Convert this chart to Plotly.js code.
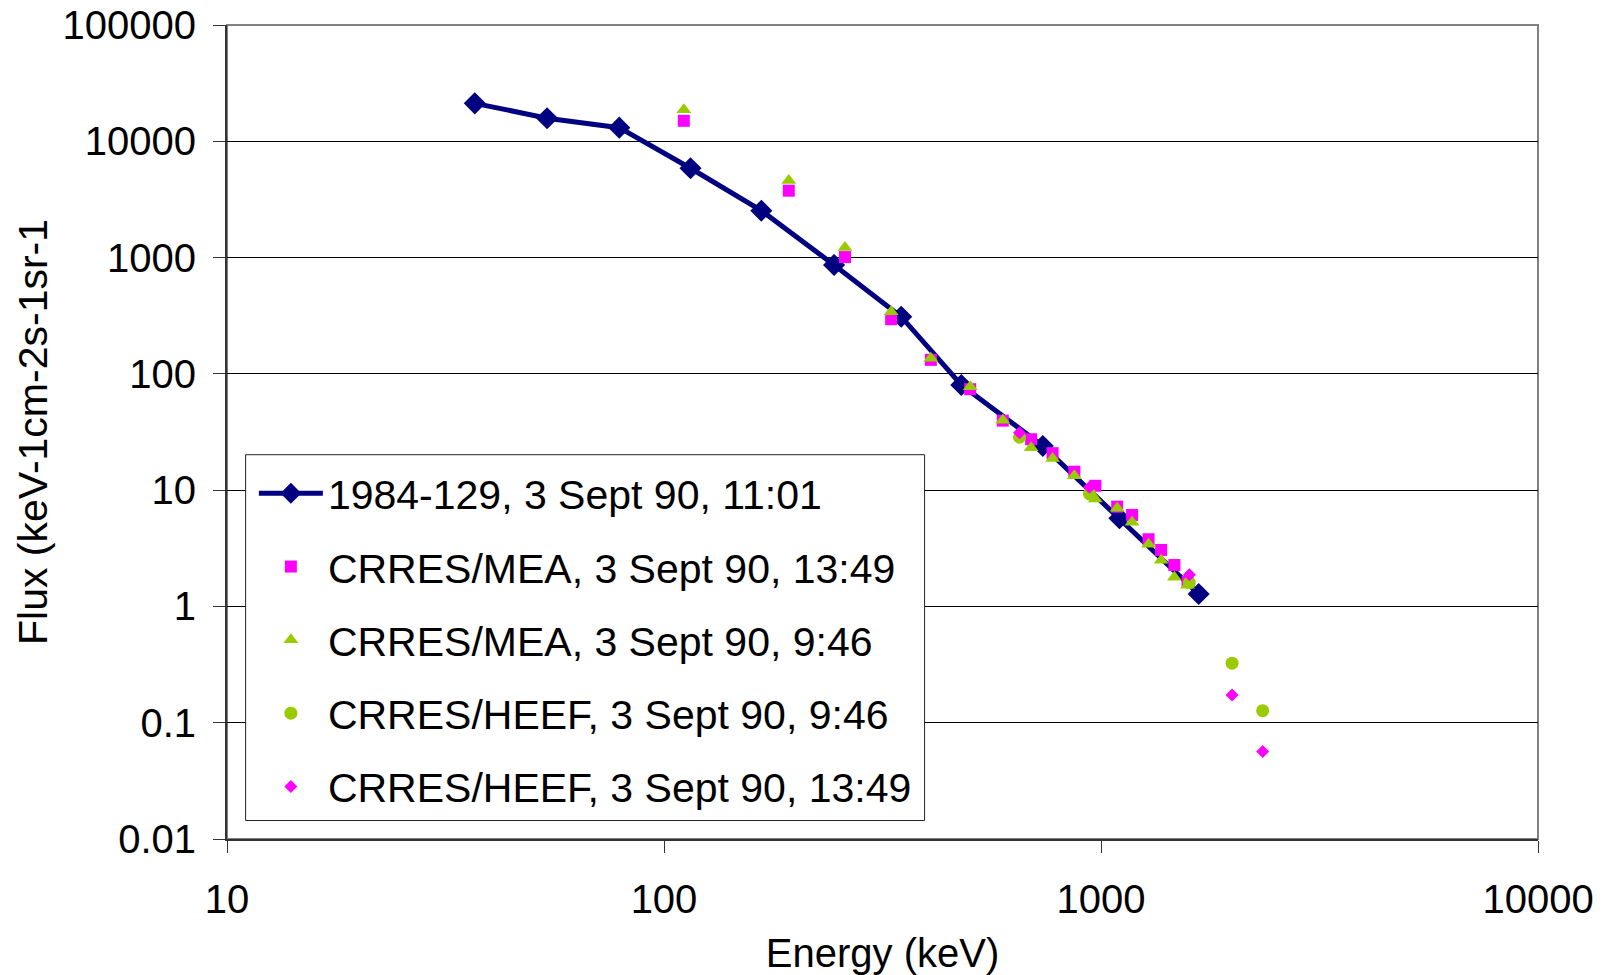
<!DOCTYPE html>
<html>
<head>
<meta charset="utf-8">
<script src="https://cdn.plot.ly/plotly-3.0.1.min.js"></script>
<style>
  html, body { margin: 0; padding: 0; background: #ffffff; }
  #chart { width: 1605px; height: 975px; }
</style>
</head>
<body>
<div id="chart"></div>
<script>
// Electron flux spectra, 3 September 1990
const seriesNames = [
  '1984-129, 3 Sept 90, 11:01',
  'CRRES/MEA, 3 Sept 90, 13:49',
  'CRRES/MEA, 3 Sept 90, 9:46',
  'CRRES/HEEF, 3 Sept 90, 9:46',
  'CRRES/HEEF, 3 Sept 90, 13:49'
];

// 1984-129 (LANL geosynchronous)
const lanlEnergy = [36.9, 54.0, 79.0, 115, 167, 245, 349, 479, 736, 1102, 1673];
const lanlFlux   = [21200, 15800, 13100, 5860, 2530, 864, 310, 80.3, 24.0, 5.73, 1.28];

// CRRES/MEA channels
const meaEnergy   = [111, 193, 259.5, 331, 408, 502, 596, 692, 775, 869, 971, 1089, 1178, 1285, 1373, 1472, 1578];
const mea1349Flux = [15000, 3760, 1010, 295, 132, 73.8, 39.6, 27.4, 20.8, 14.4, 10.9, 7.21, 6.12, 3.78, 3.06, 2.27, 1.63];
const mea0946Flux = [18700, 4590, 1220, 342, 136, 77.5, 40.0, 23.2, 18.7, 13.3, 8.4, 7.0, 5.3, 3.42, 2.5, 1.78, 1.52];

// CRRES/HEEF channels
const heefEnergy   = [651, 941, 1593, 1995, 2344];
const heef0946Flux = [28.5, 9.27, 1.6, 0.325, 0.127];
const heef1349Flux = [31.2, 10.6, 1.87, 0.173, 0.0565];

// Axis ticks
const xTicks = [10, 100, 1000, 10000];
const yTicks = [0.01, 0.1, 1, 10, 100, 1000, 10000, 100000];
const xTickText = ['10', '100', '1000', '10000'];
const yTickText = ['0.01', '0.1', '1', '10', '100', '1000', '10000', '100000'];

const NAVY = '#000080';
const MAGENTA = '#FF00FF';
const LIME = '#99CC00';
const FONT = 'Liberation Sans, Arial, sans-serif';

const traces = [
  {
    x: lanlEnergy, y: lanlFlux, name: seriesNames[0], legendgroup: 'g0',
    type: 'scatter', mode: 'lines+markers',
    line: { color: NAVY, width: 5 },
    marker: { symbol: 'diamond', size: 17, color: NAVY }
  },
  {
    x: meaEnergy, y: mea1349Flux, name: seriesNames[1], legendgroup: 'g1',
    type: 'scatter', mode: 'markers',
    marker: { symbol: 'square', size: 12, color: MAGENTA }
  },
  {
    x: meaEnergy, y: mea0946Flux, name: seriesNames[2], legendgroup: 'g2',
    type: 'scatter', mode: 'markers',
    marker: { symbol: 'triangle-up', size: 13, color: LIME }
  },
  {
    x: heefEnergy, y: heef0946Flux, name: seriesNames[3], legendgroup: 'g3',
    type: 'scatter', mode: 'markers',
    marker: { symbol: 'circle', size: 13, color: LIME }
  },
  {
    x: heefEnergy, y: heef1349Flux, name: seriesNames[4], legendgroup: 'g4',
    type: 'scatter', mode: 'markers',
    marker: { symbol: 'diamond', size: 10, color: MAGENTA }
  }
];

const layout = {
  width: 1605,
  height: 975,
  margin: { l: 227, r: 67, t: 25, b: 136, pad: 0 },
  paper_bgcolor: '#ffffff',
  plot_bgcolor: '#ffffff',
  font: { family: FONT, size: 40, color: '#000000' },
  showlegend: true,
  xaxis: {
    type: 'log',
    range: [1, 4],
    tickvals: xTicks,
    ticktext: xTickText,
    ticks: 'outside',
    ticklen: 12,
    tickwidth: 1,
    tickcolor: '#333333',
    showline: true,
    linecolor: '#333333',
    linewidth: 2,
    showgrid: false,
    zeroline: false,
    tickfont: { family: FONT, size: 40, color: '#000000' },
    ticklabelstandoff: 12,
    title: { text: 'Energy (keV)', font: { family: FONT, size: 40, color: '#000000' }, standoff: 20 }
  },
  yaxis: {
    type: 'log',
    range: [-2, 5],
    tickvals: yTicks,
    ticktext: yTickText,
    ticks: 'outside',
    ticklen: 12,
    tickwidth: 1,
    tickcolor: '#333333',
    showline: true,
    linecolor: '#333333',
    linewidth: 2,
    showgrid: true,
    gridcolor: '#000000',
    gridwidth: 1,
    zeroline: false,
    tickfont: { family: FONT, size: 40, color: '#000000' },
    ticklabelstandoff: 9
  },
  legend: {
    x: 0.0205,
    xanchor: 'left',
    y: 0.4655,
    yanchor: 'top',
    bgcolor: 'rgba(0,0,0,0)',
    borderwidth: 0,
    font: { family: FONT, size: 41, color: '#000000' },
    itemwidth: 64,
    tracegroupgap: 17,
    traceorder: 'grouped'
  },
  shapes: [
    // plot-area frame
    {
      type: 'rect', xref: 'paper', yref: 'paper', x0: 0, x1: 1, y0: 0, y1: 1,
      line: { color: '#808080', width: 2 }, layer: 'below'
    },
    // legend box
    {
      type: 'rect', xref: 'paper', yref: 'paper',
      x0: 0.0142, x1: 0.5321, y0: 0.0227, y1: 0.4721,
      line: { color: '#222222', width: 1 }, fillcolor: '#ffffff', layer: 'above'
    }
  ],
  annotations: [
    {
      text: 'Flux (keV-1cm-2s-1sr-1',
      xref: 'paper', yref: 'paper',
      x: -0.148, y: 0.5,
      xanchor: 'center', yanchor: 'middle',
      textangle: -90, showarrow: false,
      font: { family: FONT, size: 41, color: '#000000' }
    }
  ]
};

Plotly.newPlot('chart', traces, layout, { displayModeBar: false, staticPlot: true });
</script>
</body>
</html>
